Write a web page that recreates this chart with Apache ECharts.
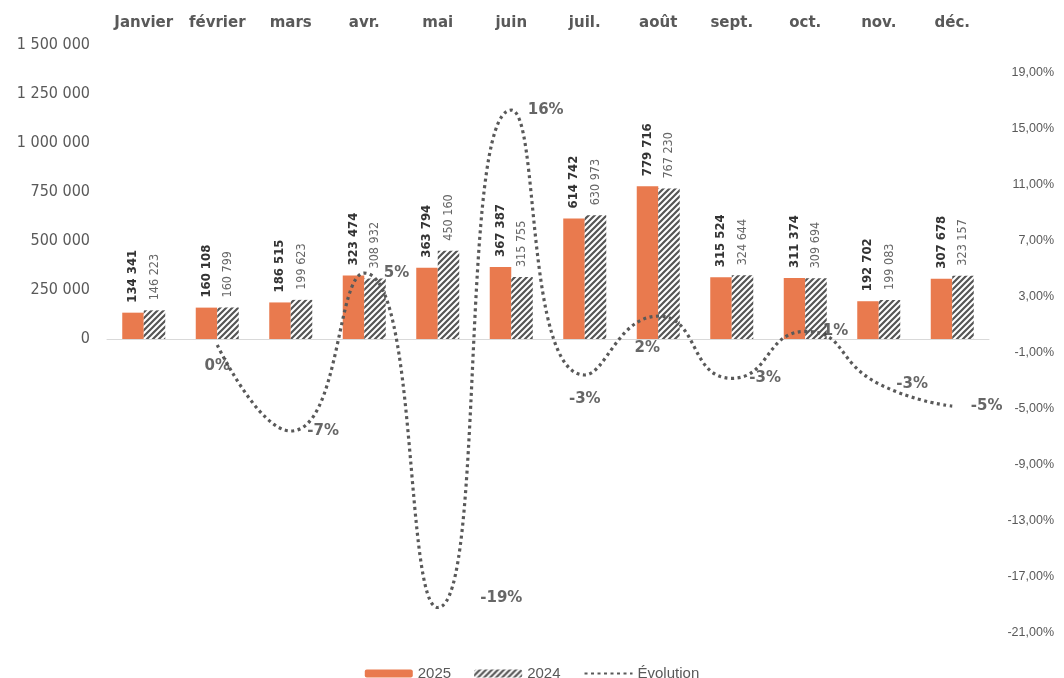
<!DOCTYPE html>
<html>
<head>
<meta charset="utf-8">
<script src="https://cdn.jsdelivr.net/npm/echarts@6/dist/echarts.min.js"></script>
<style>
html,body{margin:0;padding:0;background:#fff;}
#c{width:1064px;height:678px;}
</style>
</head>
<body>
<div id="c"></div>
<script>
const months = ['Janvier','février','mars','avr.','mai','juin','juil.','août','sept.','oct.','nov.','déc.'];
const sales2025 = [134341,160108,186515,323474,363794,367387,614742,779716,315524,311374,192702,307678];
const sales2024 = [146223,160799,199623,308932,450160,315755,630973,767230,324644,309694,199083,323157];
const evolution = [null,-0.43,-6.57,4.71,-19.18,16.35,-2.57,1.63,-2.81,0.54,-3.20,-4.79];
const leftTicks = {min:-1500000, max:1500000, interval:250000};
const rightTicks = {min:-21, max:21, interval:4};

// per-point label placement (styling only)
const evoLabelPlace = [
  null,
  {position:'bottom', distance:13},
  {position:'right', distance:16},
  {position:'right', distance:19},
  {position:'right', distance:42, offset:[0,-9]},
  {position:'right', distance:16},
  {position:'bottom', distance:16},
  {position:'bottom', distance:24, offset:[-11,0]},
  {position:'right', distance:17},
  {position:'right', distance:17},
  {position:'right', distance:17},
  {position:'right', distance:18}
];

function hatch(){
  const c=document.createElement('canvas'); c.width=6; c.height=6;
  const g=c.getContext('2d');
  g.fillStyle='#ffffff'; g.fillRect(0,0,6,6);
  g.strokeStyle='#555555'; g.lineWidth=2.2;
  g.beginPath();
  g.moveTo(-1,7); g.lineTo(7,-1);
  g.moveTo(-1,1); g.lineTo(1,-1);
  g.moveTo(5,7); g.lineTo(7,5);
  g.stroke();
  return c;
}
const hatchPattern = {image: hatch(), repeat:'repeat'};
const fmtNum = v => String(v).replace(/\B(?=(\d{3})+(?!\d))/g,' ');

const chart = echarts.init(document.getElementById('c'), null, {renderer:'canvas'});
chart.setOption({
  animation:false,
  backgroundColor:'#ffffff',
  grid:{left:107, right:75, top:45, height:588},
  legend:{
    data:['2025','2024','Évolution'],
    top:661, left:'center',
    itemWidth:48, itemHeight:8, itemGap:23,
    textStyle:{fontFamily:'Liberation Sans, Arial, sans-serif', fontSize:15, color:'#595959'}
  },
  xAxis:[{
    type:'category', data:months, position:'top',
    axisLine:{show:false}, axisTick:{show:false},
    axisLabel:{interval:0, margin:14, fontFamily:'DejaVu Sans, sans-serif', fontWeight:'bold', fontSize:15, color:'#595959'}
  },{
    type:'category', data:months, position:'bottom',
    axisLine:{show:true, onZero:true, lineStyle:{color:'#D9D9D9', width:1}},
    axisTick:{show:false}, axisLabel:{show:false}
  }],
  yAxis:[{
    type:'value', min:leftTicks.min, max:leftTicks.max, interval:leftTicks.interval,
    splitLine:{show:false}, axisLine:{show:false}, axisTick:{show:false},
    axisLabel:{margin:17, fontFamily:'DejaVu Sans Condensed, DejaVu Sans, sans-serif', fontSize:16, color:'#595959',
      formatter: v => v<0 ? '' : fmtNum(v)}
  },{
    type:'value', min:rightTicks.min, max:rightTicks.max, interval:rightTicks.interval,
    position:'right',
    splitLine:{show:false}, axisLine:{show:false}, axisTick:{show:false},
    axisLabel:{margin:65, align:'right', showMaxLabel:false, fontFamily:'Liberation Sans, Arial, sans-serif', fontSize:12.5, color:'#595959',
      formatter: v => v.toFixed(2).replace('.',',')+'%'}
  }],
  series:[{
    name:'2025', type:'bar', data:sales2025, barWidth:21.5, barGap:'0%',
    itemStyle:{color:'#E97A4E'},
    label:{show:true, position:'top', rotate:90, align:'left', verticalAlign:'middle', distance:10,
      fontFamily:'DejaVu Sans Condensed, DejaVu Sans, sans-serif', fontWeight:'bold', fontSize:13, color:'#333333',
      formatter: p => fmtNum(p.value)}
  },{
    name:'2024', type:'bar', data:sales2024, barWidth:21.5, barGap:'0%',
    itemStyle:{color:hatchPattern},
    label:{show:true, position:'top', rotate:90, align:'left', verticalAlign:'middle', distance:10,
      fontFamily:'DejaVu Sans Condensed, DejaVu Sans, sans-serif', fontSize:12.5, color:'#666666',
      formatter: p => fmtNum(p.value)}
  },{
    name:'Évolution', type:'line', yAxisIndex:1, data:evolution,
    smooth:0.55, symbol:'none', z:5,
    lineStyle:{color:'#595959', width:3.2, type:[3,3.5], cap:'butt'},
    itemStyle:{color:'rgba(0,0,0,0)'}
  },{
    name:'labels', type:'scatter', yAxisIndex:1, z:6, silent:true,
    symbolSize:1, itemStyle:{color:'rgba(0,0,0,0)'},
    data: evolution.map((v,i)=>({value:v, label: Object.assign({}, evoLabelPlace[i]||{})})),
    label:{show:true, fontFamily:'DejaVu Sans, sans-serif', fontWeight:'bold', fontSize:15, color:'#404040',
      formatter: p => p.value==null ? '' : (Math.round(p.value)===0 ? '0' : String(Math.round(p.value)))+'%'}
  }]
});
</script>
</body>
</html>
